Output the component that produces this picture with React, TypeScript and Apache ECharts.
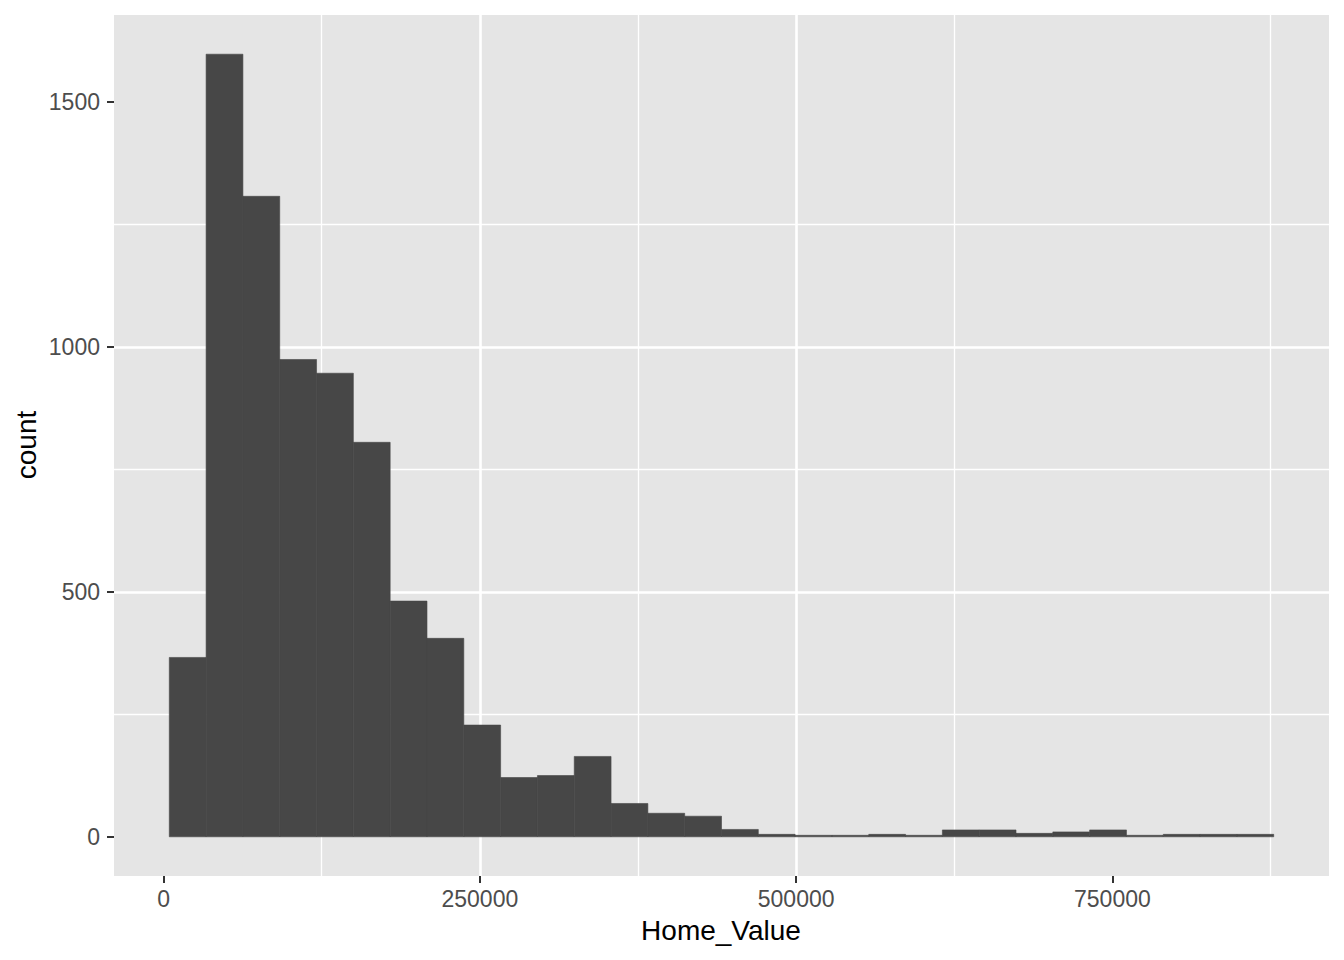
import React, { useEffect, useRef } from 'react';
import * as echarts from 'echarts';

// Home_Value histogram, 30 bins
const binStart = 4500;
const binWidth = 29100;
const counts = [
  366, 1597, 1307, 974, 946, 805, 481, 405, 228, 121,
  125, 164, 68, 48, 42, 15, 5, 3, 3, 5,
  3, 14, 14, 7, 10, 14, 3, 5, 5, 5,
];

const xTicks = [0, 250000, 500000, 750000];
const yTicks = [0, 500, 1000, 1500];

const xRange = [-39200, 921200];
const yRange = [-80, 1677];

const FONT = '"Liberation Sans", Arial, Helvetica, sans-serif';

const App: React.FC = () => {
  const chartRef = useRef<HTMLDivElement>(null);

  useEffect(() => {
    if (!chartRef.current) return;
    const chart = echarts.init(chartRef.current, undefined, { renderer: 'svg' });

    const bins = counts.map((c, i) => [binStart + i * binWidth, binStart + (i + 1) * binWidth, c]);

    const axisCommon = {
      type: 'value',
      axisLine: { show: false, onZero: false },
      splitLine: {
        show: true,
        showMinLine: false,
        showMaxLine: false,
        lineStyle: { color: '#FFFFFF', width: 2.6 },
      },
      minorTick: { show: false, splitNumber: 2 },
      minorSplitLine: { show: true, lineStyle: { color: '#FFFFFF', width: 1.3 } },
    };

    const option = {
      animation: false,
      backgroundColor: '#FFFFFF',
      textStyle: { fontFamily: FONT },
      grid: {
        left: 114,
        top: 15,
        width: 1215,
        height: 861,
        show: true,
        backgroundColor: '#E5E5E5',
        borderWidth: 0,
      },
      xAxis: {
        ...axisCommon,
        min: xRange[0],
        max: xRange[1],
        minInterval: 250000,
        maxInterval: 250000,
        axisTick: {
          show: true,
          customValues: xTicks,
          length: 7,
          lineStyle: { color: '#333333', width: 2 },
        },
        axisLabel: {
          customValues: xTicks,
          formatter: (v: number) => String(v),
          color: '#4D4D4D',
          fontSize: 23,
          fontFamily: FONT,
          margin: 11,
        },
      },
      yAxis: {
        ...axisCommon,
        min: yRange[0],
        max: yRange[1],
        minInterval: 500,
        maxInterval: 500,
        axisTick: {
          show: true,
          customValues: yTicks,
          length: 7,
          lineStyle: { color: '#333333', width: 2 },
        },
        axisLabel: {
          customValues: yTicks,
          formatter: (v: number) => String(v),
          color: '#4D4D4D',
          fontSize: 23,
          fontFamily: FONT,
          margin: 14,
        },
      },
      graphic: [
        {
          type: 'text',
          x: 721,
          y: 930,
          style: {
            text: 'Home_Value',
            fill: '#000000',
            fontSize: 28,
            fontFamily: FONT,
            align: 'center',
            verticalAlign: 'middle',
          },
        },
        {
          type: 'text',
          x: 26,
          y: 445,
          rotation: Math.PI / 2,
          style: {
            text: 'count',
            fill: '#000000',
            fontSize: 28,
            fontFamily: FONT,
            align: 'center',
            verticalAlign: 'middle',
          },
        },
      ],
      series: [
        {
          type: 'custom',
          silent: true,
          data: bins,
          encode: { x: [0, 1], y: 2 },
          renderItem: (_params: any, api: any) => {
            const topLeft = api.coord([api.value(0), api.value(2)]);
            const bottomRight = api.coord([api.value(1), 0]);
            return {
              type: 'rect',
              shape: {
                x: topLeft[0],
                y: topLeft[1],
                width: bottomRight[0] - topLeft[0],
                height: bottomRight[1] - topLeft[1],
              },
              style: { fill: '#474747', stroke: '#474747', lineWidth: 0.6 },
            };
          },
        },
      ],
    };

    chart.setOption(option);

    return () => {
      chart.dispose();
    };
  }, []);

  return (
    <div
      ref={chartRef}
      style={{ position: 'fixed', left: 0, top: 0, width: '1344px', height: '960px' }}
    ></div>
  );
};

export default App;
